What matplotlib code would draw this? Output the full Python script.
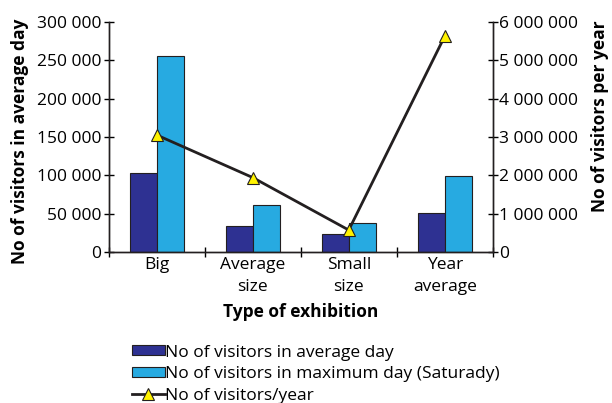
import matplotlib.pyplot as plt
import numpy as np
from matplotlib.ticker import FuncFormatter

categories = ['Big', 'Average\nsize', 'Small\nsize', 'Year\naverage']
avg_day = [103000, 34000, 23500, 50500]
max_day = [256000, 61000, 37500, 98500]
per_year = [3050000, 1940000, 570000, 5630000]

dark_blue = '#2E3192'
light_blue = '#27AAE1'

plt.rcParams['font.family'] = ['Open Sans', 'DejaVu Sans']

def spaced(v, pos):
    return f'{int(v):,}'.replace(',', ' ')

fig = plt.figure(figsize=(6.12, 4.03), dpi=100)
ax = fig.add_axes([0.178, 0.375, 0.627, 0.570])
ax2 = ax.twinx()

x = np.arange(len(categories))
w = 0.28
ax.bar(x - w/2, avg_day, w, color=dark_blue, edgecolor='#231F20', linewidth=0.8,
       label='No of visitors in average day', zorder=2)
ax.bar(x + w/2, max_day, w, color=light_blue, edgecolor='#231F20', linewidth=0.8,
       label='No of visitors in maximum day (Saturady)', zorder=2)
ax2.plot(x, per_year, color='#231F20', linewidth=2, marker='^', markersize=9,
         markerfacecolor='#FFF200', markeredgecolor='#231F20', markeredgewidth=0.8,
         label='No of visitors/year')

ax.set_xlim(-0.5, 3.5)
ax.set_ylim(0, 300000)
ax2.set_ylim(0, 6000000)
ax.set_yticks(np.arange(0, 300001, 50000))
ax2.set_yticks(np.arange(0, 6000001, 1000000))
ax.yaxis.set_major_formatter(FuncFormatter(spaced))
ax2.yaxis.set_major_formatter(FuncFormatter(spaced))

ax.set_xticks(x)
ax.set_xticklabels(categories, fontsize=12.5, linespacing=1.45)
ax.set_xticks([-0.5, 0.5, 1.5, 2.5, 3.5], minor=True)
ax.tick_params(axis='x', which='major', length=0, pad=4)
ax.tick_params(axis='x', which='minor', length=7, direction='inout', width=1)
ax.tick_params(axis='y', length=7, direction='inout', width=1, labelsize=12.5, pad=2)
ax2.tick_params(axis='y', length=7, direction='inout', width=1, labelsize=12.5, pad=1)

for a in (ax, ax2):
    a.spines['top'].set_visible(False)
    for s in ('left', 'right', 'bottom'):
        a.spines[s].set_linewidth(1)
        a.spines[s].set_color('#231F20')

ax.set_ylabel('No of visitors in average day', fontsize=12.5, fontweight='bold')
ax.yaxis.set_label_coords(-0.208, 0.48)
ax2.set_ylabel('No of visitors per year', fontsize=12.5, fontweight='bold')
ax2.yaxis.set_label_coords(1.255, 0.59)
ax.set_xlabel('Type of exhibition', fontsize=12.5, fontweight='bold', labelpad=6)

h1, l1 = ax.get_legend_handles_labels()
h2, l2 = ax2.get_legend_handles_labels()
fig.legend(h1 + h2, l1 + l2, loc='upper left', bbox_to_anchor=(0.215, 0.145),
           frameon=False, fontsize=12.5, handlelength=1.9, handleheight=0.5,
           handletextpad=0.05, labelspacing=0.32, borderaxespad=0, borderpad=0)

fig.savefig('out.png', dpi=100)
